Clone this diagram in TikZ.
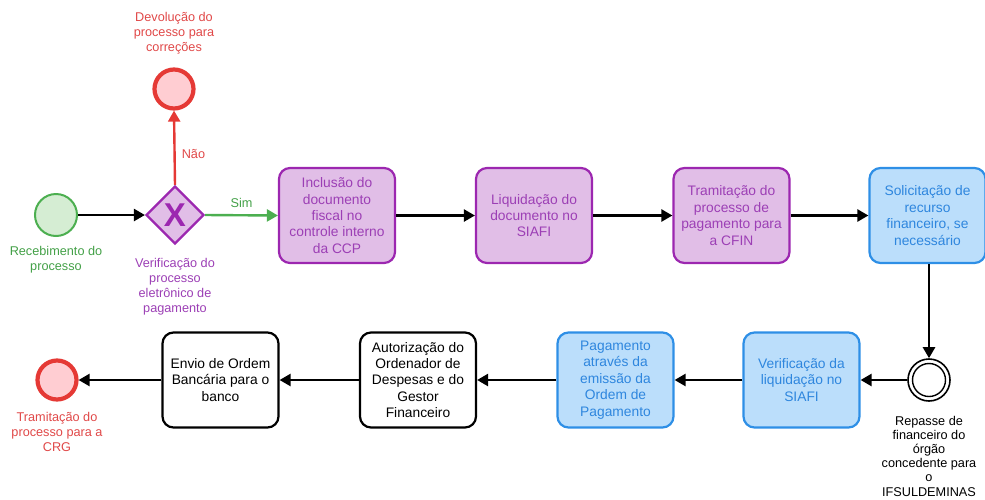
\documentclass[tikz,border=0pt]{standalone}
\usepackage{fontspec}
\setmainfont{Liberation Sans}
\usetikzlibrary{arrows.meta,shapes.geometric}
\definecolor{pstroke}{HTML}{9C27B0}
\definecolor{pfill}{HTML}{E1BEE7}
\definecolor{ptext}{HTML}{9C3FB5}
\definecolor{bstroke}{HTML}{2E8FE6}
\definecolor{bfill}{HTML}{BBDEFB}
\definecolor{btext}{HTML}{2E86DE}
\definecolor{gstroke}{HTML}{4CAF50}
\definecolor{gfill}{HTML}{D5EDD3}
\definecolor{gtext}{HTML}{43A047}
\definecolor{rstroke}{HTML}{E53935}
\definecolor{rfill}{HTML}{FFCDD2}
\definecolor{rtext}{HTML}{E04848}
\tikzset{
  lbl/.style={font=\fontsize{12.7}{15}\selectfont, align=center, inner sep=0pt},
  task/.style={font=\fontsize{13.8}{16.4}\selectfont, align=center, inner sep=0pt, draw, line width=2.2pt, rounded corners=11pt, minimum width=116pt, minimum height=95pt},
  ptask/.style={task, draw=pstroke, fill=pfill, text=ptext},
  btask/.style={task, draw=bstroke, fill=bfill, text=btext},
  ktask/.style={task, draw=black, fill=white, text=black},
  conn/.style={line width=2.4pt, -{Triangle[length=11pt,width=12pt]}},
}
\begin{document}
\begin{tikzpicture}[x=1pt,y=-1pt]
\useasboundingbox (0,0) rectangle (985,499);
% start
\node[circle, draw=gstroke, fill=gfill, line width=2pt, minimum size=42pt, inner sep=0pt] (start) at (56,215) {};
\node[lbl, text=gtext] (startlbl) at (56,259.5) {Recebimento do\\processo};
% gateway
\node[diamond, draw=pstroke, fill=pfill, line width=2.2pt, minimum width=58pt, minimum height=58pt, inner sep=0pt, text=pstroke, font=\fontsize{33}{33}\selectfont\bfseries] (gw) at (175,215) {X};
\node[lbl, text=ptext] (gwlbl) at (175,286.5) {Verificação do\\processo\\eletrônico de\\pagamento};
% top end
\node[circle, draw=rstroke, fill=rfill, line width=4.2pt, minimum size=39pt, inner sep=0pt] (endtop) at (174,89) {};
\node[lbl, text=rtext] (endtoplbl) at (174,33.5) {Devolução do\\processo para\\correções};
% top row tasks
\node[ptask] (t1) at (337,215.5) {Inclusão do\\documento\\fiscal no\\controle interno\\da CCP};
\node[ptask] (t2) at (534,215.5) {Liquidação do\\documento no\\SIAFI};
\node[ptask] (t3) at (731.5,215.5) {Tramitação do\\processo de\\pagamento para\\a CFIN};
\node[btask] (t4) at (927.5,215.5) {Solicitação de\\recurso\\financeiro, se\\necessário};
% intermediate event
\node[circle, draw=black, fill=white, line width=1.6pt, minimum size=42pt, inner sep=0pt] (ie) at (929,380) {};
\draw[line width=1.4pt] (ie.center) circle (16.5pt);
\node[lbl, text=black, font=\fontsize{12.7}{14.2}\selectfont] (ielbl) at (929,456) {Repasse de\\financeiro do\\órgão\\concedente para\\o\\IFSULDEMINAS};
% bottom row tasks
\node[btask] (t5) at (801.5,380) {Verificação da\\liquidação no\\SIAFI};
\node[btask] (t6) at (615.5,380) {Pagamento\\através da\\emissão da\\Ordem de\\Pagamento};
\node[ktask] (t7) at (418,380) {Autorização do\\Ordenador de\\Despesas e do\\Gestor\\Financeiro};
\node[ktask] (t8) at (220.5,380) {Envio de Ordem\\Bancária para o\\banco};
% bottom end
\node[circle, draw=rstroke, fill=rfill, line width=4.2pt, minimum size=39pt, inner sep=0pt] (endbot) at (57,380) {};
\node[lbl, text=rtext] (endbotlbl) at (57,432) {Tramitação do\\processo para a\\CRG};
% connectors
\draw[conn] (start) -- (gw);
\draw[conn, draw=rstroke, fill=rstroke] (gw.north) -- (endtop.south) node[lbl, text=rtext, pos=0.42, right=6pt] (nao) {Não};
\draw[conn, draw=gstroke, fill=gstroke] (gw.east) -- (t1.west) node[lbl, text=gtext, pos=0.5, above=6pt] (sim) {Sim};
\draw[conn] (t1) -- (t2);
\draw[conn] (t2) -- (t3);
\draw[conn] (t3) -- (t4);
\draw[conn] (t4.south -| ie.north) -- (ie.north);
\draw[conn] (ie) -- (t5);
\draw[conn] (t5) -- (t6);
\draw[conn] (t6) -- (t7);
\draw[conn] (t7) -- (t8);
\draw[conn] (t8) -- (endbot);
\end{tikzpicture}
\end{document}
